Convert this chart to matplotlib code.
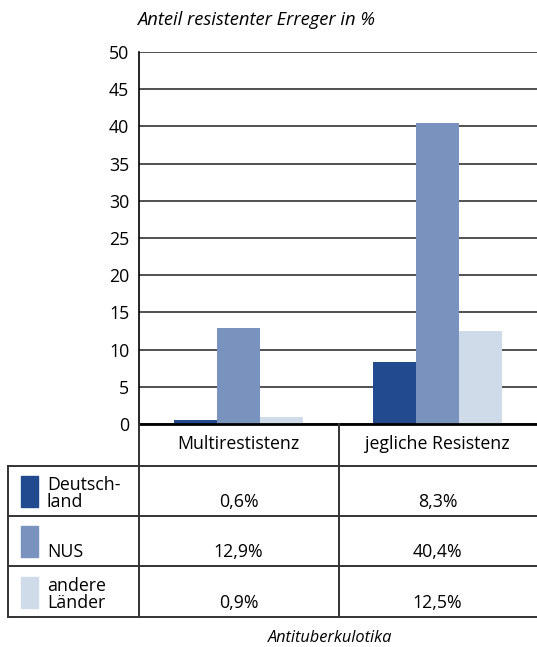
import numpy as np
import matplotlib.pyplot as plt
import matplotlib.transforms as mtransforms

plt.rcParams['font.family'] = ['Open Sans', 'DejaVu Sans']

# Daten
kategorien = ["Multirestistenz", "jegliche Resistenz"]
gruppen = ["Deutsch-\nland", "NUS", "andere\nLänder"]
deutschland = [0.6, 8.3]
nus = [12.9, 40.4]
andere = [0.9, 12.5]
werte = [deutschland, nus, andere]
farben = ["#224a8f", "#7a93be", "#d0dbea"]
yticks = [0, 5, 10, 15, 20, 25, 30, 35, 40, 45, 50]

W, H = 537, 647
fs = 12.8
fig = plt.figure(figsize=(W / 100, H / 100), dpi=100)

# Diagramm
ax = fig.add_axes([139 / W, 1 - 424 / H, (W - 139) / W, (424 - 52) / H])
x = np.arange(len(kategorien))
breite = 0.216
for i, (v, c) in enumerate(zip(werte, farben)):
    ax.bar(x + (i - 1) * breite, v, breite, color=c, zorder=3)

ax.set_xlim(-0.5, 1.5)
ax.set_ylim(0, 50)
ax.set_yticks(yticks)
ax.set_yticklabels([str(t) for t in yticks], fontsize=fs)
ax.set_xticks([])
ax.tick_params(axis="y", length=0, pad=7)
ax.grid(axis="y", color="#222222", linewidth=1.1, zorder=0)
for s in ["top", "right"]:
    ax.spines[s].set_visible(False)
ax.spines["left"].set_linewidth(1.2)
ax.spines["bottom"].set_linewidth(2.0)
ax.spines["bottom"].set_zorder(4)

# Tabelle (Pixelkoordinaten)
tab = fig.add_axes([0, 0, 1, 1], facecolor="none")
tab.set_xlim(0, W)
tab.set_ylim(H, 0)
tab.axis("off")
lc = "#333333"
lw = 1.4
for y in [466, 516, 566, 617]:
    tab.plot([8, W], [y, y], color=lc, lw=lw)
tab.plot([8, 8], [466, 617], color=lc, lw=lw)
tab.plot([139, 139], [424, 617], color=lc, lw=lw)
tab.plot([338.5, 338.5], [424, 617], color=lc, lw=lw)

trans = mtransforms.blended_transform_factory(ax.transData, tab.transData)
for j, k in enumerate(kategorien):
    tab.text(x[j], 444, k, transform=trans, ha="center", va="center", fontsize=fs)

zeilen_unten = [508, 558, 609]
for i, (g, v, c) in enumerate(zip(gruppen, werte, farben)):
    yb = zeilen_unten[i]
    tab.add_patch(plt.Rectangle((21, yb - 32), 17, 31, color=c))
    tab.text(47, yb + 3, g, ha="left", va="bottom", fontsize=fs, linespacing=0.9)
    for j in range(len(kategorien)):
        tab.text(x[j], yb + 3, "{:.1f}%".format(v[j]).replace(".", ","),
                 transform=trans, ha="center", va="bottom", fontsize=fs)

fig.text(137 / W, 1 - 20 / H, "Anteil resistenter Erreger in %",
         ha="left", va="center", fontsize=13.2, style="italic")
fig.text(330 / W, 1 - 638 / H, "Antituberkulotika",
         ha="center", va="center", fontsize=11.8, style="italic")

fig.savefig("out.png", dpi=100)
